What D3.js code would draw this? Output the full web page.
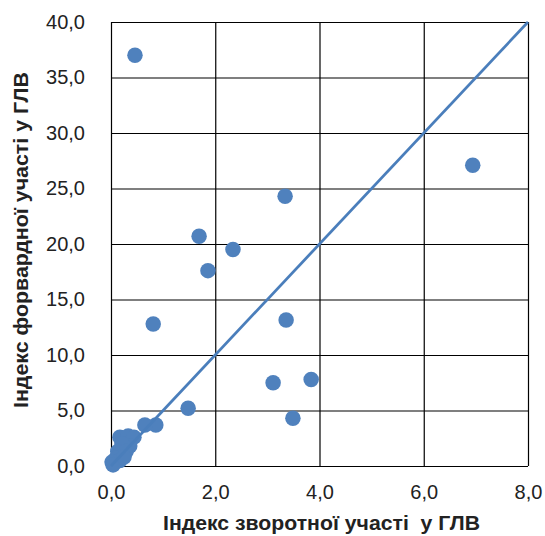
<!DOCTYPE html>
<html><head><meta charset="utf-8">
<script src="https://cdn.jsdelivr.net/npm/d3@7"></script>
<style>body{margin:0;background:#fff}svg{display:block}</style>
</head><body>
<svg id="c" width="545" height="536"></svg>
<script>
const xTitle = "Індекс зворотної участі  у ГЛВ";
const yTitle = "Індекс форвардної участі у ГЛВ";
const xTicks = [0, 2, 4, 6, 8];
const yTicks = [0, 5, 10, 15, 20, 25, 30, 35, 40];
const backward = [0.46, 6.94, 3.34, 1.69, 2.34, 1.86, 0.81, 3.36, 3.11, 3.84, 3.49, 1.48, 0.86, 0.65,
  0.17, 0.33, 0.44, 0.36, 0.21, 0.13, 0.29, 0.10, 0.02, 0.17, 0.04, 0.25];
const forward = [37.0, 27.1, 24.3, 20.7, 19.5, 17.6, 12.8, 13.15, 7.5, 7.8, 4.3, 5.2, 3.7, 3.7,
  2.6, 2.7, 2.6, 1.8, 2.0, 1.3, 1.3, 0.7, 0.35, 0.5, 0.1, 0.8];
const trendX = [0, 8];
const trendY = [0, 40];

const svg = d3.select("#c");
const L = 111, R = 528, T = 22, B = 466;
const x = d3.scaleLinear().domain([0, 8]).range([L, R]);
const y = d3.scaleLinear().domain([0, 40]).range([B, T]);
const fmt = d => d.toFixed(1).replace(".", ",");
const FF = "Liberation Sans, Arial, sans-serif";

// grid
svg.append("g").attr("transform", `translate(0,${B})`)
  .call(d3.axisBottom(x).tickValues(xTicks).tickSize(-(B - T)).tickFormat(fmt).tickPadding(19))
  .call(g => g.select(".domain").remove())
  .call(g => g.selectAll("line").attr("stroke", "#000").attr("stroke-width", 1.2))
  .call(g => g.selectAll("text").attr("font-family", FF).attr("font-size", 20).attr("fill", "#222"));
svg.append("g").attr("transform", `translate(${L},0)`)
  .call(d3.axisLeft(y).tickValues(yTicks).tickSize(-(R - L)).tickFormat(fmt).tickPadding(26))
  .call(g => g.select(".domain").remove())
  .call(g => g.selectAll("line").attr("stroke", "#000").attr("stroke-width", 1.2))
  .call(g => g.selectAll("text").attr("font-family", FF).attr("font-size", 20).attr("fill", "#222"));

// points
const pts = backward.map((b, i) => [b, forward[i]]);
svg.append("g").selectAll("circle").data(pts).join("circle")
  .attr("cx", d => x(d[0])).attr("cy", d => y(d[1])).attr("r", 7.75)
  .attr("fill", "#4f81bd");

// trend line
svg.append("path")
  .attr("d", d3.line().x(d => x(d[0])).y(d => y(d[1]))(trendX.map((v, i) => [v, trendY[i]])))
  .attr("stroke", "#4a7ebb").attr("stroke-width", 2.75).attr("fill", "none");

// titles
svg.append("text").attr("x", 321.5).attr("y", 530).attr("text-anchor", "middle")
  .style("white-space", "pre")
  .attr("textLength", 317).attr("lengthAdjust", "spacingAndGlyphs")
  .attr("font-family", FF).attr("font-size", 20).attr("font-weight", "bold")
  .attr("fill", "#222").text(xTitle);
svg.append("text").attr("transform", `translate(28,240) rotate(-90)`).attr("text-anchor", "middle")
  .attr("textLength", 336).attr("lengthAdjust", "spacingAndGlyphs")
  .attr("font-family", FF).attr("font-size", 20).attr("font-weight", "bold")
  .attr("fill", "#222").text(yTitle);
</script>
</body></html>
